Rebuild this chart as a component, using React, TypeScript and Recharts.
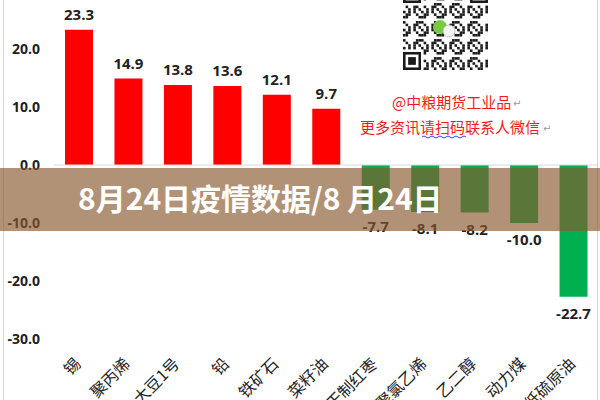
import { Bar, BarChart, Cell, LabelList, ReferenceLine, XAxis, YAxis } from "recharts";

const CATEGORIES = [
  "锡",
  "聚丙烯",
  "大豆1号",
  "铅",
  "铁矿石",
  "菜籽油",
  "干制红枣",
  "聚氯乙烯",
  "乙二醇",
  "动力煤",
  "低硫原油",
];
const CHANGES = [23.3, 14.9, 13.8, 13.6, 12.1, 9.7, -7.7, -8.1, -8.2, -10.0, -22.7];
const Y_TICKS = [-30, -20, -10, 0, 10, 20];
const TITLE = "8月24日疫情数据/8 月24日";
const NOTE_LINES = ["@中粮期货工业品", "更多资讯请扫码联系人微信"];

const UP = "#ff0000";
const DOWN = "#00b050";
const CJK = "'Noto Sans CJK SC', sans-serif";
const NUM = "'Open Sans', 'Noto Sans', sans-serif";

const data = CATEGORIES.map((name, i) => ({ name, value: CHANGES[i] }));

function CategoryTick({ x, y, payload }: any) {
  return (
    <g transform={`translate(${x + 3},${y + 26})`}>
      <text textAnchor="end" transform="rotate(-45)" fontSize={16} fill="#222" fontFamily={CJK}>
        {payload.value}
      </text>
    </g>
  );
}

function ValueTick({ y, payload }: any) {
  return (
    <text x={40} y={y} dy={5} textAnchor="end" fontSize={14} fontWeight="bold" fill="#222" fontFamily={NUM}>
      {Number(payload.value).toFixed(1)}
    </text>
  );
}

function BarValueLabel(props: any) {
  const { x, y, width, height } = props;
  const v = Number(props.value);
  const top = Math.min(y, y + height);
  const bottom = Math.max(y, y + height);
  const cy = v >= 0 ? top - 15 : bottom + 17;
  return (
    <text x={x + width / 2} y={cy} dy={5} textAnchor="middle" fontSize={15} fontWeight="bold" fill="#222" fontFamily={NUM}>
      {v.toFixed(1)}
    </text>
  );
}

// decorative QR block (not chart data)
function QrCode({ x, y, size }: { x: number; y: number; size: number }) {
  const n = 33;
  const m = size / n;
  const cells: React.ReactElement[] = [];
  const inFinder = (i: number, j: number) =>
    (i < 8 && j < 8) || (i < 8 && j >= n - 8) || (i >= n - 8 && j < 8);
  for (let i = 0; i < n; i++) {
    for (let j = 0; j < n; j++) {
      if (inFinder(i, j)) continue;
      if ((i * 73 + j * 41 + i * j * 13 + ((i ^ j) * 7)) % 7 < 3) {
        cells.push(<rect key={`${i}-${j}`} x={x + j * m} y={y + i * m} width={m} height={m} fill="#1a1a1a" />);
      }
    }
  }
  const finder = (fx: number, fy: number) => (
    <g key={`f${fx}-${fy}`}>
      <rect x={fx + m / 2} y={fy + m / 2} width={6 * m} height={6 * m} fill="none" stroke="#1a1a1a" strokeWidth={m} />
      <rect x={fx + 2 * m} y={fy + 2 * m} width={3 * m} height={3 * m} fill="#1a1a1a" />
    </g>
  );
  return (
    <g>
      {cells}
      {finder(x, y)}
      {finder(x + (n - 7) * m, y)}
      {finder(x, y + (n - 7) * m)}
      <circle cx={x + 37} cy={y + 42} r={7} fill="#7ac943" />
      <circle cx={x + 46} cy={y + 46} r={6} fill="#f4f4f4" stroke="#bbb" strokeWidth={0.8} />
    </g>
  );
}

export default function App() {
  return (
    <div style={{ position: "absolute", left: 0, top: 0, width: 600, height: 400, overflow: "hidden", background: "#fff" }}>
      <div style={{ position: "absolute", left: 0, top: -9 }}>
        <BarChart width={600} height={420} data={data} margin={{ top: 0, right: 2, bottom: 0, left: 0 }}>
          <XAxis
            dataKey="name"
            axisLine={false}
            tickLine={false}
            tickSize={0}
            tickMargin={0}
            height={72}
            interval={0}
            tick={<CategoryTick />}
          />
          <YAxis
            width={54}
            domain={[-30, 30]}
            ticks={Y_TICKS}
            axisLine={false}
            tickLine={false}
            tick={<ValueTick />}
          />
          <ReferenceLine y={0} stroke="#d9d9d9" strokeWidth={1} />
          <Bar dataKey="value" barSize={28} isAnimationActive={false}>
            {data.map((d) => (
              <Cell key={d.name} fill={d.value >= 0 ? UP : DOWN} />
            ))}
            <LabelList dataKey="value" content={<BarValueLabel />} />
          </Bar>
        </BarChart>
      </div>
      <svg width={600} height={400} style={{ position: "absolute", left: 0, top: 0, pointerEvents: "none" }}>
        <line x1={3.5} y1={0} x2={3.5} y2={400} stroke="#d6d6d6" />
        <line x1={597.5} y1={0} x2={597.5} y2={400} stroke="#d6d6d6" />
        <QrCode x={403} y={-15} size={85} />
        <g fontFamily={CJK} fontSize={15} fill="#f01c1c">
          <text x={392} y={108}>{NOTE_LINES[0]}</text>
          <text x={360} y={133}>{NOTE_LINES[1]}</text>
        </g>
        <g fontSize={10} fill="#999" fontFamily="'DejaVu Sans', sans-serif">
          <text x={513} y={107}>↵</text>
          <text x={543} y={132}>↵</text>
        </g>
        <path d="M422 137 q2 -2 4 0 t4 0 t4 0 t4 0 t4 0 t4 0 t4 0 t4 0 t4 0 t4 0 t4 0" fill="none" stroke="#3344ee" strokeWidth={1} />
        <rect x={0} y={168} width={600} height={63} fill="rgb(137,89,46)" fillOpacity={0.655} />
        <text x={78} y={210} fontFamily={CJK} fontSize={30} fontWeight="bold" fill="#fff">
          {TITLE}
        </text>
      </svg>
    </div>
  );
}
